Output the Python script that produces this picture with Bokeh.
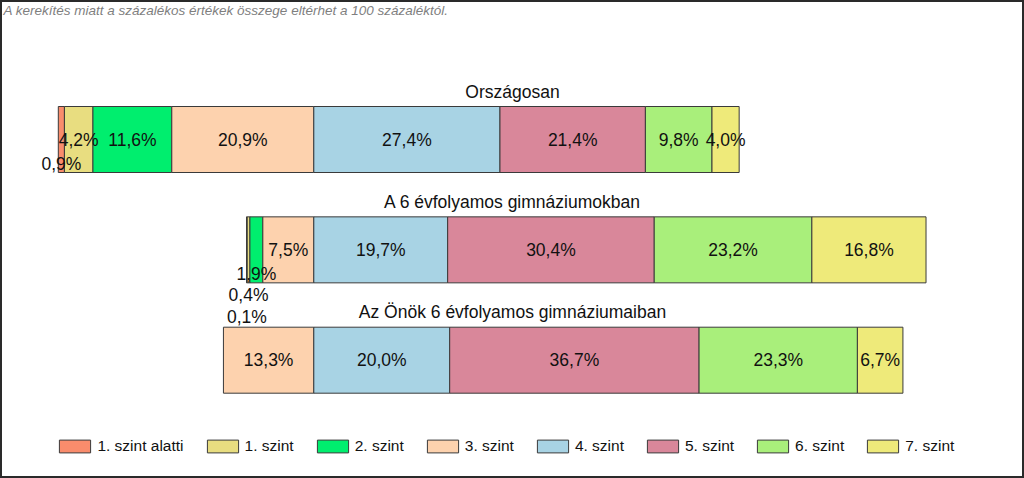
from bokeh.plotting import figure
from bokeh.models import ColumnDataSource, Range1d, Legend, LegendItem, Label
from bokeh.core.properties import value
from bokeh.embed import file_html
from bokeh.resources import INLINE

# ---- data ----
levels = ["1. szint alatti", "1. szint", "2. szint", "3. szint",
          "4. szint", "5. szint", "6. szint", "7. szint"]
groups = ["Országosan", "A 6 évfolyamos gimnáziumokban",
          "Az Önök 6 évfolyamos gimnáziumaiban"]
orszagosan = [0.9, 4.2, 11.6, 20.9, 27.4, 21.4, 9.8, 4.0]
hat_evfolyamos = [0.1, 0.4, 1.9, 7.5, 19.7, 30.4, 23.2, 16.8]
onok = [0.0, 0.0, 0.0, 13.3, 20.0, 36.7, 23.3, 6.7]
colors = ["#F98C6C", "#E8DD80", "#00EE6E", "#FDD2AE",
          "#A8D3E4", "#D9879A", "#A9EF7B", "#EEEA7A"]
note = "A kerekítés miatt a  százalékos értékek összege eltérhet a 100 százaléktól."

series = [orszagosan, hat_evfolyamos, onok]
n_neg = 4  # levels left of the centre line (below 4. szint)

FONT = "Liberation Sans"
W, H = 1024, 478
PX_PER_PCT = 6.795
CENTER_PX = 313.3
ROW0_PX = 139.0
ROW_STEP = 110.35
BAR_PX = 66.0

p = figure(width=W, height=H, output_backend="svg", toolbar_location=None,
           x_range=Range1d(-CENTER_PX / PX_PER_PCT, (W - CENTER_PX) / PX_PER_PCT),
           y_range=Range1d((H - ROW0_PX) / ROW_STEP, -ROW0_PX / ROW_STEP),
           x_axis_location=None, y_axis_location=None, min_border=0)
p.grid.visible = False
p.outline_line_color = "#2a2a2a"
p.outline_line_width = 3
p.background_fill_color = "white"
p.border_fill_color = "white"

# ---- bars ----
renderers = []
for j, lev in enumerate(levels):
    ys, ls, rs = [], [], []
    for i, vals in enumerate(series):
        start = -sum(vals[:n_neg])
        left = start + sum(vals[:j])
        right = left + vals[j]
        if vals[j] > 0:
            ys.append(i)
            ls.append(left)
            rs.append(right)
    src = ColumnDataSource(dict(y=ys, left=ls, right=rs))
    r = p.hbar(y="y", left="left", right="right", height=BAR_PX / ROW_STEP,
               source=src, fill_color=colors[j], line_color="#3a3a3a",
               line_width=1)
    renderers.append(r)

# ---- value labels ----
lab_x, lab_y, lab_t, lab_off = [], [], [], []
for i, vals in enumerate(series):
    start = -sum(vals[:n_neg])
    cum = start
    centers = []
    for j, v in enumerate(vals):
        centers.append(cum + v / 2)
        cum += v
    # small segments get staggered below the bar, from centre outward
    k = 0
    offsets = [0.0] * len(vals)
    for j in reversed(range(len(vals))):
        if 0 < vals[j] < 2:
            k += 1
            offsets[j] = 24 + 21.5 * (k - 1)
    for j, v in enumerate(vals):
        if v <= 0:
            continue
        lab_x.append(centers[j])
        lab_y.append(i)
        lab_t.append(f"{v:.1f}".replace(".", ",") + "%")
        lab_off.append(offsets[j])

p.text(x="x", y="y", text="t", y_offset="off",
       source=ColumnDataSource(dict(x=lab_x, y=lab_y, t=lab_t, off=lab_off)),
       text_font=value(FONT), text_font_size="17.5px", text_color="#111111",
       text_align="center", text_baseline="middle")

# ---- group titles ----
mid_x = (p.x_range.start + p.x_range.end) / 2
p.text(x=[mid_x] * len(groups), y=list(range(len(groups))), text=groups,
       y_offset=-48, text_font=value(FONT), text_font_size="17.5px",
       text_color="#111111", text_align="center", text_baseline="middle")

# ---- note ----
p.add_layout(Label(x=3, y=H - 2, x_units="screen", y_units="screen",
                   text=note, text_font=FONT, text_font_size="13.5px",
                   text_font_style="italic", text_color="#7f7f7f",
                   text_baseline="top", text_align="left"))

# ---- legend ----
legend = Legend(items=[LegendItem(label=lev, renderers=[r])
                       for lev, r in zip(levels, renderers)],
                orientation="horizontal", location=(55.4, 23.3),
                glyph_width=39, glyph_height=16, label_height=16,
                label_standoff=3, spacing=19, padding=0, margin=0,
                label_text_font=FONT, label_text_font_size="15.5px",
                label_text_color="#111111", border_line_alpha=0,
                background_fill_alpha=0)
p.add_layout(legend, "center")

open("out.html", "w").write(file_html(p, INLINE))
